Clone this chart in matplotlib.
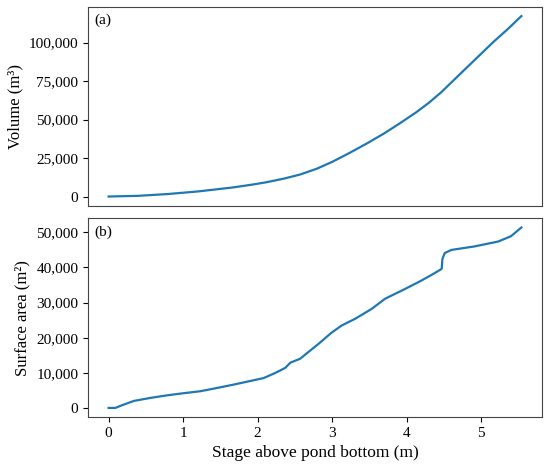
import matplotlib.pyplot as plt
from matplotlib.ticker import StrMethodFormatter

plt.rcParams['font.family'] = ['Liberation Serif', 'DejaVu Serif']
plt.rcParams['font.size'] = 11

# stage (m) vs volume (m3)
stage_v = [0.0, 0.4, 0.79, 1.2, 1.67, 1.95, 2.12, 2.35, 2.57, 2.79, 3.0,
           3.24, 3.47, 3.69, 3.9, 4.13, 4.3, 4.46, 4.58, 4.80, 5.0, 5.16,
           5.35, 5.54]
volume = [0, 450, 1600, 3300, 5900, 7900, 9300, 11600, 14300, 18000, 22500,
          28500, 34600, 40800, 47300, 54800, 61000, 67600, 73200, 83500,
          92800, 100300, 108500, 117300]

# stage (m) vs surface area (m2)
stage_a = [0.0, 0.09, 0.18, 0.34, 0.56, 0.79, 1.01, 1.23, 1.46, 1.68, 1.95,
           2.08, 2.24, 2.37, 2.44, 2.57, 2.68, 2.82, 2.99, 3.13, 3.31, 3.53,
           3.71, 3.98, 4.20, 4.36, 4.47, 4.48, 4.51, 4.60, 4.91, 5.23, 5.40,
           5.54]
area = [0, 0, 770, 2000, 2850, 3600, 4200, 4750, 5700, 6650, 7900,
        8500, 10000, 11400, 12900, 14000, 15900, 18300, 21400, 23500, 25400,
        28200, 31100, 33900, 36300, 38200, 39600, 42400, 44100, 45000, 46000,
        47400, 48900, 51400]

fig, (ax1, ax2) = plt.subplots(2, 1, sharex=True, figsize=(5.5, 4.69), dpi=100)
fig.subplots_adjust(left=0.16, right=0.9855, top=0.985, bottom=0.111, hspace=0.065)

ax1.plot(stage_v, volume, color='#1f77b4', lw=1.6)
ax2.plot(stage_a, area, color='#1f77b4', lw=1.6)

ax1.set_yticks([0, 25000, 50000, 75000, 100000])
ax2.set_yticks([0, 10000, 20000, 30000, 40000, 50000])
for ax in (ax1, ax2):
    ax.yaxis.set_major_formatter(StrMethodFormatter('{x:,.0f}'))
    for s in ax.spines.values():
        s.set_color('#444444')
ax1.tick_params(axis='x', bottom=False)

ax1.set_ylabel('Volume (m³)', fontsize=12)
ax2.set_ylabel('Surface area (m²)', fontsize=12)
ax2.set_xlabel('Stage above pond bottom (m)', fontsize=12.5)
ax1.set_xticks([0, 1, 2, 3, 4, 5])

ax1.text(0.015, 0.965, '(a)', transform=ax1.transAxes, va='top', ha='left')
ax2.text(0.015, 0.965, '(b)', transform=ax2.transAxes, va='top', ha='left')

fig.savefig('out.png', dpi=100)
